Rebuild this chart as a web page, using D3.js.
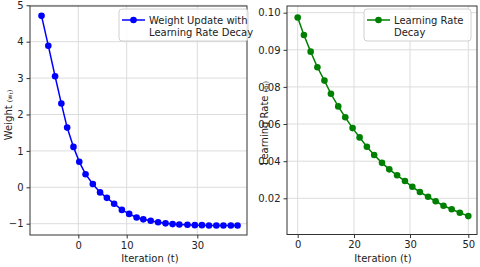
<!DOCTYPE html>
<html>
<head>
<meta charset="utf-8">
<script src="https://cdn.jsdelivr.net/npm/d3@7"></script>
<style>
  body { margin: 0; background: #fff; }
  svg { display: block; font-family: "DejaVu Sans", sans-serif; }
</style>
</head>
<body>
<div id="chart"></div>
<script>
const weightIter = [-7.6, -6.2, -4.8, -3.5, -2.3, -1.0, 0.2, 1.5, 3.0, 4.5, 5.9, 7.4, 9.0,
  10.7, 12.8, 14.7, 16.8, 18.9, 21.0, 23.0, 24.9, 27.2, 29.3, 31.3, 33.3, 35.4, 37.4, 39.5, 41.4];
const weightVals = [4.71, 3.89, 3.05, 2.30, 1.64, 1.11, 0.70, 0.36, 0.09, -0.14, -0.29, -0.45, -0.62,
  -0.73, -0.83, -0.88, -0.92, -0.96, -0.99, -1.01, -1.02, -1.03, -1.04, -1.04, -1.05, -1.05, -1.05, -1.05, -1.05];
const weightXTicks = [0, 10, 30];
const weightYTicks = [-1, 0, 1, 2, 3, 4, 5];

// right panel: learning rate decay
const lrIter = [0, 2.2, 4.6, 7.0, 9.5, 11.8, 14.4, 16.9, 19.5, 21.0, 22.3, 23.6, 25.0, 26.3,
  27.7, 29.1, 30.8, 33.4, 36.2, 38.8, 41.5, 44.3, 47.1, 50];
const lrVals = [0.0987, 0.0940, 0.0895, 0.0853, 0.0817, 0.0763, 0.0695, 0.0636, 0.0578, 0.0528,
  0.0478, 0.0433, 0.0391, 0.0356, 0.0324, 0.0293, 0.0262, 0.0234, 0.0208, 0.0184, 0.0160,
  0.0141, 0.0122, 0.0104];
const lrXTicks = [0, 20, 30, 50];
const lrYTicks = [0.02, 0.04, 0.06, 0.08, 0.09, 0.10];

const svg = d3.select('#chart').append('svg')
  .attr('width', 480).attr('height', 267);

function drawPanel(p) {
  const g = svg.append('g');
  const x = p.x, y = p.y;

  // grid
  g.selectAll('.vg').data(p.xTicks).join('line')
    .attr('x1', d => x(d)).attr('x2', d => x(d))
    .attr('y1', p.top).attr('y2', p.top + p.h)
    .attr('stroke', '#dcdcdc').attr('stroke-width', 1);
  g.selectAll('.hg').data(p.yTicks).join('line')
    .attr('x1', p.left).attr('x2', p.left + p.w)
    .attr('y1', d => y(d)).attr('y2', d => y(d))
    .attr('stroke', '#dcdcdc').attr('stroke-width', 1);

  // line + markers
  const pts = p.xs.map((v, i) => [v, p.ys[i]]);
  g.append('path').datum(pts)
    .attr('fill', 'none').attr('stroke', p.color).attr('stroke-width', 1.5)
    .attr('d', d3.line().x(d => x(d[0])).y(d => y(d[1])));
  g.selectAll('circle').data(pts).join('circle')
    .attr('cx', d => x(d[0])).attr('cy', d => y(d[1])).attr('r', 3.3)
    .attr('fill', p.color);

  // axes
  const xa = g.append('g').attr('transform', `translate(0,${p.top + p.h})`)
    .call(d3.axisBottom(x).tickValues(p.xTicks).tickFormat(d3.format('d')).tickSize(3.5).tickPadding(3));
  const ya = g.append('g').attr('transform', `translate(${p.left},0)`)
    .call(d3.axisLeft(y).tickValues(p.yTicks).tickFormat(p.yFormat).tickSize(3.5).tickPadding(3));
  [xa, ya].forEach(a => {
    a.select('.domain').remove();
    a.selectAll('text').attr('font-size', 10).attr('fill', '#222')
      .attr('font-family', '"DejaVu Sans", sans-serif');
    a.selectAll('line').attr('stroke', '#333');
  });
  ya.selectAll('text').text(d => p.yFormat(d).replace('-', '\u2212'));

  // frame
  g.append('rect').attr('x', p.left).attr('y', p.top).attr('width', p.w).attr('height', p.h)
    .attr('fill', 'none').attr('stroke', '#333').attr('stroke-width', 1);

  // x label
  g.append('text').attr('x', p.xlabX).attr('y', 262).attr('text-anchor', 'middle')
    .attr('font-size', 10).attr('fill', '#222').text('Iteration (t)');

  // y label with small mathtext part
  const yl = g.append('text')
    .attr('transform', `translate(${p.ylabX},${p.ylabY}) rotate(-90)`)
    .attr('text-anchor', 'middle').attr('dy', '0.35em')
    .attr('font-size', 10).attr('fill', '#222');
  yl.append('tspan').text(p.ylab + ' ');
  yl.append('tspan').attr('font-size', 6.5).text('(' + p.sym);
  yl.append('tspan').attr('font-size', 5).attr('dy', 1.5).text('t');
  yl.append('tspan').attr('font-size', 6.5).attr('dy', -1.5).text(')');

  // legend
  const lg = g.append('g').attr('transform', `translate(${p.legX},9)`);
  lg.append('rect').attr('width', p.legW).attr('height', 32).attr('rx', 3)
    .attr('fill', '#fff').attr('fill-opacity', 0.85).attr('stroke', '#d0d0d0');
  lg.append('line').attr('x1', 3).attr('x2', 26).attr('y1', 11).attr('y2', 11)
    .attr('stroke', p.color).attr('stroke-width', 1.5);
  lg.append('circle').attr('cx', 14.5).attr('cy', 11).attr('r', 3.3).attr('fill', p.color);
  p.legend.forEach((t, i) => {
    lg.append('text').attr('x', 30).attr('y', 14.5 + i * 12).attr('font-size', 10)
      .attr('fill', '#222').text(t);
  });
}

// left panel layout
const L = { left: 30, top: 6, w: 217, h: 229 };
drawPanel(Object.assign({}, L, {
  x: d3.scaleLinear().domain(weightXTicks).range([0.2226, 0.4456, 0.771].map(f => L.left + f * L.w)),
  y: d3.scaleLinear().domain([-1.31, 4.98]).range([L.top + L.h, L.top]),
  xs: weightIter, ys: weightVals, xTicks: weightXTicks, yTicks: weightYTicks,
  yFormat: d3.format('d'), color: '#0000ff',
  xlabX: 150, ylabX: 8, ylabY: 115, ylab: 'Weight', sym: 'w',
  legX: 119, legW: 129, legend: ['Weight Update with', 'Learning Rate Decay']
}));

// right panel layout: ticks evenly spaced on screen
const R = { left: 287, top: 6, w: 190, h: 228.5 };
drawPanel(Object.assign({}, R, {
  x: d3.scaleLinear().domain(lrXTicks).range([10.7, 67, 123, 181.3].map(v => R.left + v)),
  y: d3.scaleLinear().domain(lrYTicks).range([198.3, 161.2, 124, 86.9, 49.8, 12.7]),
  xs: lrIter, ys: lrVals, xTicks: lrXTicks, yTicks: lrYTicks,
  yFormat: d3.format('.2f'), color: '#008000',
  xlabX: 383, ylabX: 264, ylabY: 123, ylab: 'Learning Rate', sym: '\u03b1',
  legX: 364, legW: 107, legend: ['Learning Rate', 'Decay']
}));
</script>
</body>
</html>
